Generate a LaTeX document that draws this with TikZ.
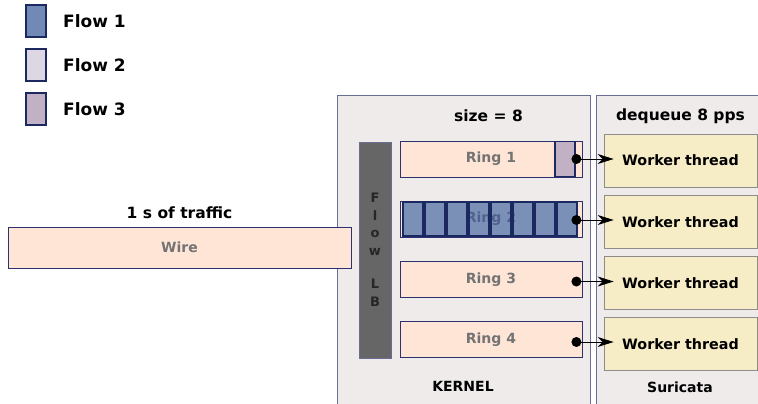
\documentclass[tikz,border=0pt]{standalone}
\usepackage{fontspec}
\setmainfont{DejaVu Sans}
\usepackage{xcolor}
\usetikzlibrary{arrows.meta, positioning, calc}

\definecolor{flowA}{HTML}{7089B5}
\definecolor{flowB}{HTML}{DCD7E3}
\definecolor{flowC}{HTML}{C2B0C4}
\definecolor{navy}{HTML}{1C2860}
\definecolor{panelbg}{HTML}{EFEBEB}
\definecolor{panelline}{HTML}{6A6E96}
\definecolor{peach}{HTML}{FEE5D6}
\definecolor{ringline}{HTML}{2C3270}
\definecolor{workerbg}{HTML}{F6ECC6}

\begin{document}
\begin{tikzpicture}[
    x=1pt, y=-1pt,
    legendbox/.style={rectangle, draw=navy, line width=1.2pt, minimum width=20pt, minimum height=32pt, inner sep=0pt},
    label/.style={font=\fontsize{15.5}{18}\selectfont\bfseries, inner sep=0pt},
    legendtxt/.style={font=\fontsize{17}{20}\selectfont\bfseries, inner sep=0pt, anchor=west},
    panel/.style={draw=panelline, fill=panelbg, line width=0.8pt},
    ring/.style={rectangle, draw=ringline, fill=peach, line width=0.8pt, minimum width=182pt, minimum height=36pt, inner sep=0pt, font=\fontsize{14}{16}\selectfont\bfseries, text=black!55},
    packet/.style={rectangle, draw=navy, line width=1.2pt, minimum width=20pt, minimum height=34pt, inner sep=0pt},
    worker/.style={rectangle, draw=black!45, fill=workerbg, line width=0.8pt, minimum width=153pt, minimum height=53pt, inner sep=0pt, font=\fontsize{14.3}{16}\selectfont\bfseries},
    arrow/.style={-{Stealth[length=16pt, width=10pt, inset=5pt]}, line width=0.8pt}
]
\useasboundingbox (0,0) rectangle (758,404);
\fill[white] (0,0) rectangle (758,404);

% Legend
\node[legendbox, fill=flowA] (leg1) at (36,21) {};
\node[legendtxt] (leg1txt) at (63,21) {Flow 1};
\node[legendbox, fill=flowB] (leg2) at (36,65) {};
\node[legendtxt] (leg2txt) at (63,65) {Flow 2};
\node[legendbox, fill=flowC] (leg3) at (36,109) {};
\node[legendtxt] (leg3txt) at (63,109) {Flow 3};

% Panels
\draw[panel] (337,95) rectangle (590,410);
\draw[panel] (596,95) rectangle (762,410);
\node[label] (size) at (488.5,116) {size = 8};
\node[label] (deq) at (680.5,116) {dequeue 8 pps};
\node[label, font=\fontsize{14}{16}\selectfont\bfseries] (kernel) at (463,386) {KERNEL};
\node[label, font=\fontsize{14}{16}\selectfont\bfseries] (suricata) at (680,387) {Suricata};

% Wire
\node[ring, minimum width=343pt, minimum height=41pt] (wire) at (179.5,247.5) {Wire};
\node[label, above=8pt of wire] (traffic) {1 s of traffic};

% Flow load balancer
\node[rectangle, draw=panelline, fill=black!60, minimum width=32pt, minimum height=216pt, inner sep=0pt,
      font=\fontsize{13}{17.5}\selectfont\bfseries, align=center, text=black!85] (lb) at (375,250)
      {F\\l\\o\\w\\[16pt]L\\B};

% Rings
\node[ring] (ring1) at (491,159) {Ring 1};
\node[ring] (ring2) at (491,219) {};
\node[ring] (ring3) at (491,279.5) {Ring 3};
\node[ring] (ring4) at (491,339.5) {Ring 4};

% Packets in the rings
\node[packet, fill=flowC, minimum height=35pt] (pk31) at (565,159) {};
\foreach \i in {0,...,7}
  \node[packet, fill=flowA, fill opacity=0.92] (pk1\i) at (413+22*\i,219) {};
\node[font=\fontsize{14}{16}\selectfont\bfseries, text=navy, text opacity=0.45, inner sep=0pt] (ring2txt) at (ring2.center) {Ring 2};

% Worker threads
\node[worker] (work1) at (680.5,160.5) {Worker thread};
\node[worker] (work2) at (680.5,222) {Worker thread};
\node[worker] (work3) at (680.5,283) {Worker thread};
\node[worker] (work4) at (680.5,344) {Worker thread};

% Dequeue arrows
\foreach \r/\dy in {1/0, 2/1, 3/2, 4/2.5} {
  \coordinate (out\r) at ($(ring\r.east)+(-6,\dy)$);
  \fill (out\r) circle (5pt);
  \draw[arrow] (out\r) -- ($(out\r -| work\r.west)+(10,0)$);
}

\end{tikzpicture}
\end{document}
